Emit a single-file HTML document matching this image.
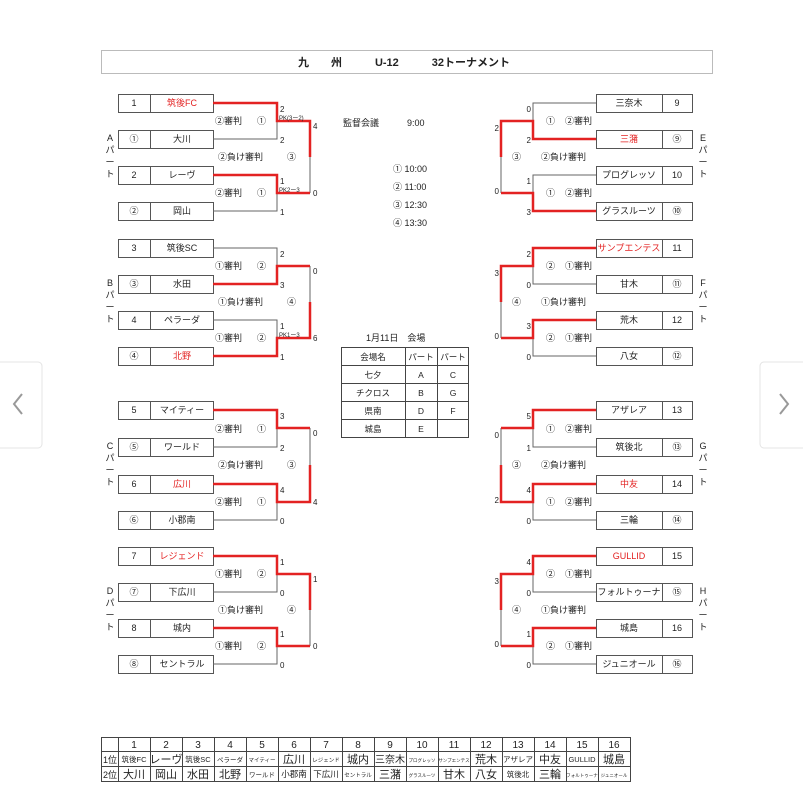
<!DOCTYPE html>
<html><head><meta charset="utf-8"><style>
html,body{margin:0;padding:0;background:#fff;}
svg{display:block;font-family:"Liberation Sans","Noto Sans CJK JP",sans-serif;}
</style></head><body>
<svg width="803" height="808" viewBox="0 0 803 808" xmlns="http://www.w3.org/2000/svg">
<rect width="803" height="808" fill="#fff"/>
<!-- side nav -->
<rect x="-5" y="362" width="47" height="86" rx="4" fill="#fff" stroke="#e4e4e4"/>
<path d="M22 394 L14 404 L22 414" fill="none" stroke="#999" stroke-width="2"/>
<rect x="760" y="362" width="50" height="86" rx="4" fill="#fff" stroke="#e4e4e4"/>
<path d="M780 394 L788 404 L780 414" fill="none" stroke="#999" stroke-width="2"/>
<!-- title -->
<rect x="101.5" y="50.5" width="611" height="23" fill="#fff" stroke="#bbb"/>
<text x="404" y="66" font-size="11" font-weight="bold" text-anchor="middle" fill="#222" xml:space="preserve">九　　州　　　U-12　　　32トーナメント</text>

<g fill="#fff" stroke="#555" stroke-width="1">
<!-- left boxes -->
<rect x="118.5" y="94.5" width="95" height="18"/><rect x="118.5" y="130.5" width="95" height="18"/><rect x="118.5" y="166.5" width="95" height="18"/><rect x="118.5" y="202.5" width="95" height="18"/>
<rect x="118.5" y="239.5" width="95" height="18"/><rect x="118.5" y="275.5" width="95" height="18"/><rect x="118.5" y="311.5" width="95" height="18"/><rect x="118.5" y="347.5" width="95" height="18"/>
<rect x="118.5" y="401.5" width="95" height="18"/><rect x="118.5" y="438.5" width="95" height="18"/><rect x="118.5" y="475.5" width="95" height="18"/><rect x="118.5" y="511.5" width="95" height="18"/>
<rect x="118.5" y="547.5" width="95" height="18"/><rect x="118.5" y="583.5" width="95" height="18"/><rect x="118.5" y="619.5" width="95" height="18"/><rect x="118.5" y="655.5" width="95" height="18"/>
<!-- right boxes -->
<rect x="596.5" y="94.5" width="96" height="18"/><rect x="596.5" y="130.5" width="96" height="18"/><rect x="596.5" y="166.5" width="96" height="18"/><rect x="596.5" y="202.5" width="96" height="18"/>
<rect x="596.5" y="239.5" width="96" height="18"/><rect x="596.5" y="275.5" width="96" height="18"/><rect x="596.5" y="311.5" width="96" height="18"/><rect x="596.5" y="347.5" width="96" height="18"/>
<rect x="596.5" y="401.5" width="96" height="18"/><rect x="596.5" y="438.5" width="96" height="18"/><rect x="596.5" y="475.5" width="96" height="18"/><rect x="596.5" y="511.5" width="96" height="18"/>
<rect x="596.5" y="547.5" width="96" height="18"/><rect x="596.5" y="583.5" width="96" height="18"/><rect x="596.5" y="619.5" width="96" height="18"/><rect x="596.5" y="655.5" width="96" height="18"/>
</g>
<g stroke="#555" stroke-width="1">
<line x1="150.5" y1="94" x2="150.5" y2="113"/><line x1="150.5" y1="130" x2="150.5" y2="149"/><line x1="150.5" y1="166" x2="150.5" y2="185"/><line x1="150.5" y1="202" x2="150.5" y2="221"/>
<line x1="150.5" y1="239" x2="150.5" y2="258"/><line x1="150.5" y1="275" x2="150.5" y2="294"/><line x1="150.5" y1="311" x2="150.5" y2="330"/><line x1="150.5" y1="347" x2="150.5" y2="366"/>
<line x1="150.5" y1="401" x2="150.5" y2="420"/><line x1="150.5" y1="438" x2="150.5" y2="457"/><line x1="150.5" y1="475" x2="150.5" y2="494"/><line x1="150.5" y1="511" x2="150.5" y2="530"/>
<line x1="150.5" y1="547" x2="150.5" y2="566"/><line x1="150.5" y1="583" x2="150.5" y2="602"/><line x1="150.5" y1="619" x2="150.5" y2="638"/><line x1="150.5" y1="655" x2="150.5" y2="674"/>
<line x1="662.5" y1="94" x2="662.5" y2="113"/><line x1="662.5" y1="130" x2="662.5" y2="149"/><line x1="662.5" y1="166" x2="662.5" y2="185"/><line x1="662.5" y1="202" x2="662.5" y2="221"/>
<line x1="662.5" y1="239" x2="662.5" y2="258"/><line x1="662.5" y1="275" x2="662.5" y2="294"/><line x1="662.5" y1="311" x2="662.5" y2="330"/><line x1="662.5" y1="347" x2="662.5" y2="366"/>
<line x1="662.5" y1="401" x2="662.5" y2="420"/><line x1="662.5" y1="438" x2="662.5" y2="457"/><line x1="662.5" y1="475" x2="662.5" y2="494"/><line x1="662.5" y1="511" x2="662.5" y2="530"/>
<line x1="662.5" y1="547" x2="662.5" y2="566"/><line x1="662.5" y1="583" x2="662.5" y2="602"/><line x1="662.5" y1="619" x2="662.5" y2="638"/><line x1="662.5" y1="655" x2="662.5" y2="674"/>
</g>

<!-- black bracket lines -->
<g fill="none" stroke="#666" stroke-width="1">
<path d="M213 103H277V139H213M213 175H277V211H213M277 121H310M277 193H310M310 121V193"/>
<path d="M213 248H277V284H213M213 320H277V356H213M277 266H310M277 338H310M310 266V338"/>
<path d="M213 410H277V447H213M213 484H277V520H213M277 428H310M277 502H310M310 428V502"/>
<path d="M213 556H277V592H213M213 628H277V664H213M277 574H310M277 646H310M310 574V646"/>
<path d="M596 103H533V139H596M596 175H533V211H596M533 121H501M533 193H501M501 121V193"/>
<path d="M596 248H533V284H596M596 320H533V356H596M533 266H501M533 338H501M501 266V338"/>
<path d="M596 410H533V447H596M596 484H533V520H596M533 428H501M533 502H501M501 428V502"/>
<path d="M596 556H533V592H596M596 628H533V664H596M533 574H501M533 646H501M501 574V646"/>
</g>
<!-- red winner paths -->
<g fill="none" stroke="#e32222" stroke-width="2.5">
<path d="M213 103H277V121H310V157"/><path d="M213 175H277V193H310"/>
<path d="M213 284H277V266H310"/><path d="M213 356H277V338H310V302"/>
<path d="M213 410H277V428H310"/><path d="M213 484H277V502H310V465"/>
<path d="M213 556H277V574H310V610"/><path d="M213 628H277V646H310"/>
<path d="M596 139H533V121H501V157"/><path d="M596 211H533V193H501"/>
<path d="M596 248H533V266H501V302"/><path d="M596 320H533V338H501"/>
<path d="M596 410H533V428H501"/><path d="M596 484H533V502H501V465"/>
<path d="M596 556H533V574H501V610"/><path d="M596 628H533V646H501"/>
</g>

<!-- box text -->
<g font-size="9" fill="#222" text-anchor="middle">
<text x="134" y="106">1</text><text x="134" y="142">①</text><text x="134" y="178">2</text><text x="134" y="214">②</text>
<text x="134" y="251">3</text><text x="134" y="287">③</text><text x="134" y="323">4</text><text x="134" y="359">④</text>
<text x="134" y="413">5</text><text x="134" y="450">⑤</text><text x="134" y="487">6</text><text x="134" y="523">⑥</text>
<text x="134" y="559">7</text><text x="134" y="595">⑦</text><text x="134" y="631">8</text><text x="134" y="667">⑧</text>
<text x="182" y="106" fill="#e32222">筑後FC</text><text x="182" y="142">大川</text><text x="182" y="178">レーヴ</text><text x="182" y="214">岡山</text>
<text x="182" y="251">筑後SC</text><text x="182" y="287">水田</text><text x="182" y="323">ペラーダ</text><text x="182" y="359" fill="#e32222">北野</text>
<text x="182" y="413">マイティー</text><text x="182" y="450">ワールド</text><text x="182" y="487" fill="#e32222">広川</text><text x="182" y="523">小郡南</text>
<text x="182" y="559" fill="#e32222">レジェンド</text><text x="182" y="595">下広川</text><text x="182" y="631">城内</text><text x="182" y="667">セントラル</text>
<text x="629" y="106">三奈木</text><text x="629" y="142" fill="#e32222">三潴</text><text x="629" y="178">プログレッソ</text><text x="629" y="214">グラスルーツ</text>
<text x="629" y="251" fill="#e32222">サンプエンテス</text><text x="629" y="287">甘木</text><text x="629" y="323">荒木</text><text x="629" y="359">八女</text>
<text x="629" y="413">アザレア</text><text x="629" y="450">筑後北</text><text x="629" y="487" fill="#e32222">中友</text><text x="629" y="523">三輪</text>
<text x="629" y="559" fill="#e32222">GULLID</text><text x="629" y="595">フォルトゥーナ</text><text x="629" y="631">城島</text><text x="629" y="667">ジュニオール</text>
<text x="677" y="106">9</text><text x="677" y="142">⑨</text><text x="677" y="178">10</text><text x="677" y="214">⑩</text>
<text x="677" y="251">11</text><text x="677" y="287">⑪</text><text x="677" y="323">12</text><text x="677" y="359">⑫</text>
<text x="677" y="413">13</text><text x="677" y="450">⑬</text><text x="677" y="487">14</text><text x="677" y="523">⑭</text>
<text x="677" y="559">15</text><text x="677" y="595">⑮</text><text x="677" y="631">16</text><text x="677" y="667">⑯</text>
</g>

<!-- match labels -->
<g font-size="9" fill="#222">
<text x="215" y="124">②審判</text><text x="257" y="124">①</text><text x="218" y="160">②負け審判</text><text x="287" y="160">③</text><text x="215" y="196">②審判</text><text x="257" y="196">①</text>
<text x="215" y="269">①審判</text><text x="257" y="269">②</text><text x="218" y="305">①負け審判</text><text x="287" y="305">④</text><text x="215" y="341">①審判</text><text x="257" y="341">②</text>
<text x="215" y="432">②審判</text><text x="257" y="432">①</text><text x="218" y="468">②負け審判</text><text x="287" y="468">③</text><text x="215" y="505">②審判</text><text x="257" y="505">①</text>
<text x="215" y="577">①審判</text><text x="257" y="577">②</text><text x="218" y="613">①負け審判</text><text x="287" y="613">④</text><text x="215" y="649">①審判</text><text x="257" y="649">②</text>
<text x="546" y="124">①</text><text x="565" y="124">②審判</text><text x="512" y="160">③</text><text x="541" y="160">②負け審判</text><text x="546" y="196">①</text><text x="565" y="196">②審判</text>
<text x="546" y="269">②</text><text x="565" y="269">①審判</text><text x="512" y="305">④</text><text x="541" y="305">①負け審判</text><text x="546" y="341">②</text><text x="565" y="341">①審判</text>
<text x="546" y="432">①</text><text x="565" y="432">②審判</text><text x="512" y="468">③</text><text x="541" y="468">②負け審判</text><text x="546" y="505">①</text><text x="565" y="505">②審判</text>
<text x="546" y="577">②</text><text x="565" y="577">①審判</text><text x="512" y="613">④</text><text x="541" y="613">①負け審判</text><text x="546" y="649">②</text><text x="565" y="649">①審判</text>
</g>
<!-- part labels -->
<g font-size="9" fill="#222" text-anchor="middle">
<text x="110" y="141">A</text><text x="110" y="153">パ</text><text x="110" y="165">ー</text><text x="110" y="177">ト</text>
<text x="110" y="286">B</text><text x="110" y="298">パ</text><text x="110" y="310">ー</text><text x="110" y="322">ト</text>
<text x="110" y="449">C</text><text x="110" y="461">パ</text><text x="110" y="473">ー</text><text x="110" y="485">ト</text>
<text x="110" y="594">D</text><text x="110" y="606">パ</text><text x="110" y="618">ー</text><text x="110" y="630">ト</text>
<text x="703" y="141">E</text><text x="703" y="153">パ</text><text x="703" y="165">ー</text><text x="703" y="177">ト</text>
<text x="703" y="286">F</text><text x="703" y="298">パ</text><text x="703" y="310">ー</text><text x="703" y="322">ト</text>
<text x="703" y="449">G</text><text x="703" y="461">パ</text><text x="703" y="473">ー</text><text x="703" y="485">ト</text>
<text x="703" y="594">H</text><text x="703" y="606">パ</text><text x="703" y="618">ー</text><text x="703" y="630">ト</text>
</g>
<!-- scores -->
<g font-size="8" fill="#222">
<text x="280" y="112">2</text><text x="280" y="143">2</text><text x="280" y="184">1</text><text x="280" y="215">1</text><text x="313" y="129">4</text><text x="313" y="196">0</text>
<text x="280" y="257">2</text><text x="280" y="288">3</text><text x="280" y="329">1</text><text x="280" y="360">1</text><text x="313" y="274">0</text><text x="313" y="341">6</text>
<text x="280" y="419">3</text><text x="280" y="451">2</text><text x="280" y="493">4</text><text x="280" y="524">0</text><text x="313" y="436">0</text><text x="313" y="505">4</text>
<text x="280" y="565">1</text><text x="280" y="596">0</text><text x="280" y="637">1</text><text x="280" y="668">0</text><text x="313" y="582">1</text><text x="313" y="649">0</text>
</g>
<g font-size="6" fill="#222">
<text x="279" y="120">PK(3ー2)</text><text x="279" y="192">PK2ー3</text><text x="279" y="337">PK1ー3</text>
</g>
<g font-size="8" fill="#222" text-anchor="end">
<text x="531" y="112">0</text><text x="531" y="143">2</text><text x="531" y="184">1</text><text x="531" y="215">3</text><text x="499" y="131">2</text><text x="499" y="194">0</text>
<text x="531" y="257">2</text><text x="531" y="288">0</text><text x="531" y="329">3</text><text x="531" y="360">0</text><text x="499" y="276">3</text><text x="499" y="339">0</text>
<text x="531" y="419">5</text><text x="531" y="451">1</text><text x="531" y="493">4</text><text x="531" y="524">0</text><text x="499" y="438">0</text><text x="499" y="503">2</text>
<text x="531" y="565">4</text><text x="531" y="596">0</text><text x="531" y="637">1</text><text x="531" y="668">0</text><text x="499" y="584">3</text><text x="499" y="647">0</text>
</g>

<!-- center info -->
<g font-size="9" fill="#222">
<text x="343" y="126">監督会議</text><text x="407" y="126">9:00</text>
<text x="393" y="172">① 10:00</text><text x="393" y="190">② 11:00</text><text x="393" y="208">③ 12:30</text><text x="393" y="226">④ 13:30</text>
<text x="366" y="341">1月11日　会場</text>
</g>
<g fill="none" stroke="#444" stroke-width="1">
<rect x="341.5" y="347.5" width="127" height="90"/>
<path d="M341 365.5H469M341 383.5H469M341 401.5H469M341 419.5H469M405.5 347V438M437.5 347V438"/>
</g>
<g font-size="8.5" fill="#222" text-anchor="middle">
<text x="373" y="360">会場名</text><text x="421" y="360">パート</text><text x="453" y="360">パート</text>
<text x="373" y="378">七夕</text><text x="421" y="378">A</text><text x="453" y="378">C</text>
<text x="373" y="396">チクロス</text><text x="421" y="396">B</text><text x="453" y="396">G</text>
<text x="373" y="414">県南</text><text x="421" y="414">D</text><text x="453" y="414">F</text>
<text x="373" y="432">城島</text><text x="421" y="432">E</text>
</g>

<!-- bottom table -->
<g fill="none" stroke="#444" stroke-width="1">
<rect x="101.5" y="737.5" width="529" height="44"/>
<path d="M101 751.5H631M101 766.5H631"/>
<path d="M118.5 737V782M150.5 737V782M182.5 737V782M214.5 737V782M246.5 737V782M278.5 737V782M310.5 737V782M342.5 737V782M374.5 737V782M406.5 737V782M438.5 737V782M470.5 737V782M502.5 737V782M534.5 737V782M566.5 737V782M598.5 737V782"/>
</g>
<g fill="#222" text-anchor="middle">
<g font-size="10">
<text x="134" y="748">1</text><text x="166" y="748">2</text><text x="198" y="748">3</text><text x="230" y="748">4</text><text x="262" y="748">5</text><text x="294" y="748">6</text><text x="326" y="748">7</text><text x="358" y="748">8</text><text x="390" y="748">9</text><text x="422" y="748">10</text><text x="454" y="748">11</text><text x="486" y="748">12</text><text x="518" y="748">13</text><text x="550" y="748">14</text><text x="582" y="748">15</text><text x="614" y="748">16</text>
<text x="110" y="763" font-size="9">1位</text><text x="110" y="778" font-size="9">2位</text>
</g>
<g font-size="11">
<text x="166" y="763">レーヴ</text><text x="294" y="763">広川</text><text x="358" y="763">城内</text><text x="390" y="763" font-size="10">三奈木</text><text x="486" y="763">荒木</text><text x="550" y="763">中友</text><text x="614" y="763">城島</text>
<text x="134" y="778">大川</text><text x="166" y="778">岡山</text><text x="198" y="778">水田</text><text x="230" y="778">北野</text><text x="390" y="778">三潴</text><text x="454" y="778">甘木</text><text x="486" y="778">八女</text><text x="550" y="778">三輪</text>
</g>
<g font-size="7.5">
<text x="134" y="762">筑後FC</text><text x="198" y="762">筑後SC</text><text x="518" y="762">アザレア</text><text x="582" y="762">GULLID</text><text x="518" y="777">筑後北</text><text x="294" y="777" font-size="8.5">小郡南</text><text x="326" y="777" font-size="8.5">下広川</text>
</g>
<g font-size="6.5">
<text x="230" y="762">ペラーダ</text><text x="262" y="762" font-size="5.5">マイティー</text><text x="326" y="762" font-size="5.5">レジェンド</text><text x="262" y="777">ワールド</text><text x="358" y="777" font-size="5.5">セントラル</text>
</g>
<g font-size="4.5">
<text x="422" y="762">プログレッソ</text><text x="454" y="762">サンプエンテス</text><text x="422" y="777">グラスルーツ</text><text x="582" y="777">フォルトゥーナ</text><text x="614" y="777">ジュニオール</text>
</g>
</g>
</svg>
</body></html>
